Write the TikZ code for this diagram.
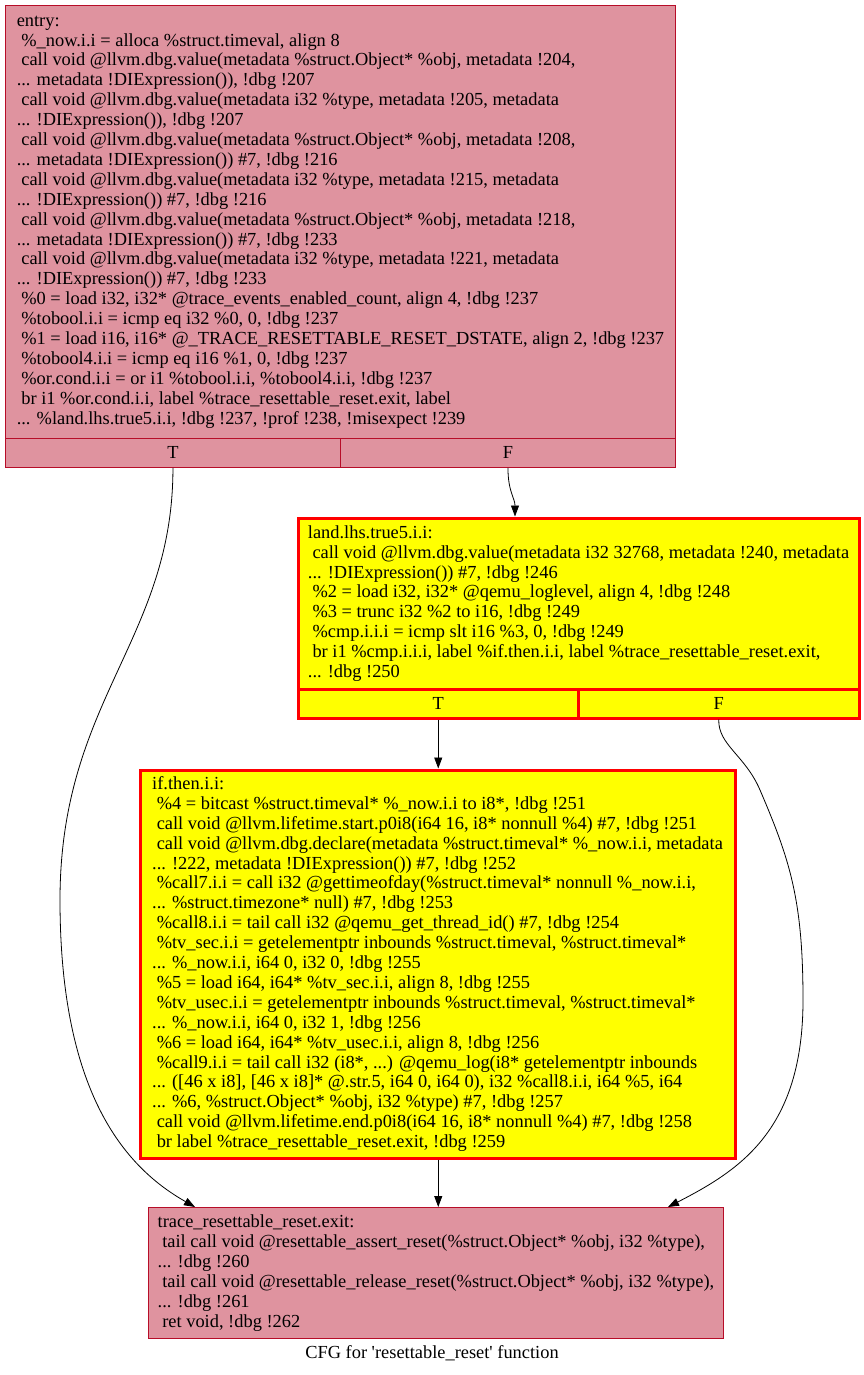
\documentclass[tikz,border=0pt]{standalone}
\usepackage{fontspec}
\setmainfont{Liberation Serif}
\usetikzlibrary{arrows.meta}
\definecolor{cfgborder}{RGB}{183,13,40}
\definecolor{cfgpink}{RGB}{223,147,159}
\definecolor{cfgyellow}{RGB}{255,255,0}
\newcommand\cfgfont{\fontsize{18.4}{19.9}\selectfont}
\newcommand\ii{\hspace*{0.25em}}
\tikzset{
  pinkbox/.style={draw=cfgborder, fill=cfgpink, line width=0.9pt, align=left, inner sep=0pt, font=\cfgfont, anchor=north west},
  yelbox/.style={draw=red, fill=cfgyellow, line width=3pt, align=left, inner sep=0pt, font=\cfgfont, anchor=north west},
  pinkcell/.style={pinkbox, align=center},
  yelcell/.style={yelbox, align=center},
  flow/.style={draw=black, line width=0.8pt, -{Triangle[length=11pt,width=8pt]}}
}
\begin{document}
\begin{tikzpicture}[x=1pt,y=-1pt]
\useasboundingbox (0,0) rectangle (864,1375);
\fill[white] (0,0) rectangle (864,1375);

% entry block
\node[pinkbox, minimum width=670pt, minimum height=433pt] (entry) at (5,5) {%
entry:\\
\ii\%\_now.i.i = alloca \%struct.timeval, align 8\\
\ii call void @llvm.dbg.value(metadata \%struct.Object* \%obj, metadata !204,\\
... metadata !DIExpression()), !dbg !207\\
\ii call void @llvm.dbg.value(metadata i32 \%type, metadata !205, metadata\\
... !DIExpression()), !dbg !207\\
\ii call void @llvm.dbg.value(metadata \%struct.Object* \%obj, metadata !208,\\
... metadata !DIExpression()) \#7, !dbg !216\\
\ii call void @llvm.dbg.value(metadata i32 \%type, metadata !215, metadata\\
... !DIExpression()) \#7, !dbg !216\\
\ii call void @llvm.dbg.value(metadata \%struct.Object* \%obj, metadata !218,\\
... metadata !DIExpression()) \#7, !dbg !233\\
\ii call void @llvm.dbg.value(metadata i32 \%type, metadata !221, metadata\\
... !DIExpression()) \#7, !dbg !233\\
\ii\%0 = load i32, i32* @trace\_events\_enabled\_count, align 4, !dbg !237\\
\ii\%tobool.i.i = icmp eq i32 \%0, 0, !dbg !237\\
\ii\%1 = load i16, i16* @\_TRACE\_RESETTABLE\_RESET\_DSTATE, align 2, !dbg !237\\
\ii\%tobool4.i.i = icmp eq i16 \%1, 0, !dbg !237\\
\ii\%or.cond.i.i = or i1 \%tobool.i.i, \%tobool4.i.i, !dbg !237\\
\ii br i1 \%or.cond.i.i, label \%trace\_resettable\_reset.exit, label\\
... \%land.lhs.true5.i.i, !dbg !237, !prof !238, !misexpect !239};
\node[pinkcell, minimum width=335pt, minimum height=29pt] (entryT) at (5,438) {T};
\node[pinkcell, minimum width=335pt, minimum height=29pt] (entryF) at (340,438) {F};

% land.lhs.true5.i.i block
\node[yelbox, minimum width=561pt, minimum height=171pt] (land) at (296.5,516.5) {%
land.lhs.true5.i.i:\\
\ii call void @llvm.dbg.value(metadata i32 32768, metadata !240, metadata\\
... !DIExpression()) \#7, !dbg !246\\
\ii\%2 = load i32, i32* @qemu\_loglevel, align 4, !dbg !248\\
\ii\%3 = trunc i32 \%2 to i16, !dbg !249\\
\ii\%cmp.i.i.i = icmp slt i16 \%3, 0, !dbg !249\\
\ii br i1 \%cmp.i.i.i, label \%if.then.i.i, label \%trace\_resettable\_reset.exit,\\
... !dbg !250};
\node[yelcell, minimum width=280.5pt, minimum height=29pt] (landT) at (296.5,687.5) {T};
\node[yelcell, minimum width=280.5pt, minimum height=29pt] (landF) at (577,687.5) {F};

% if.then.i.i block
\node[yelbox, minimum width=595pt, minimum height=388pt] (then) at (138.5,768.5) {%
if.then.i.i:\\
\ii\%4 = bitcast \%struct.timeval* \%\_now.i.i to i8*, !dbg !251\\
\ii call void @llvm.lifetime.start.p0i8(i64 16, i8* nonnull \%4) \#7, !dbg !251\\
\ii call void @llvm.dbg.declare(metadata \%struct.timeval* \%\_now.i.i, metadata\\
... !222, metadata !DIExpression()) \#7, !dbg !252\\
\ii\%call7.i.i = call i32 @gettimeofday(\%struct.timeval* nonnull \%\_now.i.i,\\
... \%struct.timezone* null) \#7, !dbg !253\\
\ii\%call8.i.i = tail call i32 @qemu\_get\_thread\_id() \#7, !dbg !254\\
\ii\%tv\_sec.i.i = getelementptr inbounds \%struct.timeval, \%struct.timeval*\\
... \%\_now.i.i, i64 0, i32 0, !dbg !255\\
\ii\%5 = load i64, i64* \%tv\_sec.i.i, align 8, !dbg !255\\
\ii\%tv\_usec.i.i = getelementptr inbounds \%struct.timeval, \%struct.timeval*\\
... \%\_now.i.i, i64 0, i32 1, !dbg !256\\
\ii\%6 = load i64, i64* \%tv\_usec.i.i, align 8, !dbg !256\\
\ii\%call9.i.i = tail call i32 (i8*, ...) @qemu\_log(i8* getelementptr inbounds\\
... ([46 x i8], [46 x i8]* @.str.5, i64 0, i64 0), i32 \%call8.i.i, i64 \%5, i64\\
... \%6, \%struct.Object* \%obj, i32 \%type) \#7, !dbg !257\\
\ii call void @llvm.lifetime.end.p0i8(i64 16, i8* nonnull \%4) \#7, !dbg !258\\
\ii br label \%trace\_resettable\_reset.exit, !dbg !259};

% trace_resettable_reset.exit block
\node[pinkbox, minimum width=575pt, minimum height=131pt] (exit) at (148,1207) {%
trace\_resettable\_reset.exit:\\
\ii tail call void @resettable\_assert\_reset(\%struct.Object* \%obj, i32 \%type),\\
... !dbg !260\\
\ii tail call void @resettable\_release\_reset(\%struct.Object* \%obj, i32 \%type),\\
... !dbg !261\\
\ii ret void, !dbg !262};

% caption
\node[font=\cfgfont, inner sep=0pt] (caption) at (432,1353) {CFG for \textquotesingle resettable\_reset\textquotesingle\ function};

% edges
\draw[flow] (entryT.south) .. controls (173,640) and (60,700) .. (60,900)
  .. controls (60,1100) and (130,1170) .. ([xshift=47pt]exit.north west);
\draw[flow] (entryF.south) .. controls (508,492) and (515,498) .. ([xshift=218.5pt]land.north west);
\draw[flow] (landT.south) -- (then.north -| landT.south);
\draw[flow] (landF.south) .. controls (718,745) and (745,755) .. (760,790)
  .. controls (790,860) and (803,900) .. (803,1000)
  .. controls (803,1130) and (740,1170) .. ([xshift=520pt]exit.north west);
\draw[flow] (then.south -| landT.south) -- (exit.north -| landT.south);
\end{tikzpicture}
\end{document}
